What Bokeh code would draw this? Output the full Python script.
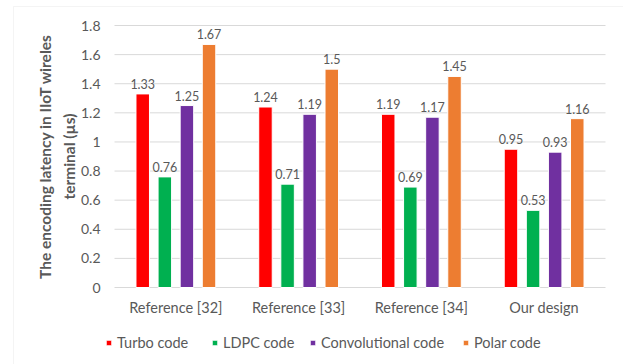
import numpy as np
from bokeh.plotting import figure
from bokeh.models import (ColumnDataSource, LabelSet, Label, Legend, LegendItem,
                          Range1d, BoxAnnotation)
from bokeh.core.properties import value
from bokeh.embed import file_html
from bokeh.resources import INLINE

categories = ["Reference [32]", "Reference [33]", "Reference [34]", "Our design"]
series_names = ["Turbo code", "LDPC code", "Convolutional code", "Polar code"]
turbo = [1.33, 1.24, 1.19, 0.95]
ldpc = [0.76, 0.71, 0.69, 0.53]
conv = [1.25, 1.19, 1.17, 0.93]
polar = [1.67, 1.5, 1.45, 1.16]
ytick_values = [0, 0.2, 0.4, 0.6, 0.8, 1, 1.2, 1.4, 1.6, 1.8]
ytick_labels = ["0", "0.2", "0.4", "0.6", "0.8", "1", "1.2", "1.4", "1.6", "1.8"]
y_title = "The encoding latency in IIoT wireles\nterminal (µs)"

# ---- layout (pixels) ----
W, H = 623, 364
PL, PR, PT, PB = 114, 605, 25, 287
colors = ["#FF0000", "#00B050", "#7030A0", "#ED7D31"]
offsets = [-0.27, -0.09, 0.09, 0.27]
legend_px = [105, 211, 309, 462]
FONT = "Lato"
TXT = "#595959"
GRID = "#D9D9D9"

ncat = len(categories)
ymax = ytick_values[-1]
xu = (PR - PL) / ncat          # px per category unit
yu = (PB - PT) / ymax          # px per data unit

p = figure(width=W, height=H, output_backend="svg", toolbar_location=None,
           x_range=Range1d(-PL / xu, (W - PL) / xu),
           y_range=Range1d(-(H - PB) / yu, ymax + PT / yu),
           x_axis_type=None, y_axis_type=None,
           min_border=0, min_border_left=0, min_border_right=0,
           min_border_top=0, min_border_bottom=0)
p.outline_line_color = None
p.xgrid.grid_line_color = None
p.ygrid.grid_line_color = None
p.background_fill_color = "white"
p.border_fill_color = "white"

# chart-area border (left & top visible)
p.add_layout(BoxAnnotation(left=(13 - PL) / xu, right=(W + 20 - PL) / xu,
                           top=ymax + (PT - 6) / yu, bottom=-(H + 20 - PB) / yu,
                           fill_alpha=0, line_color=GRID, line_width=1, level="underlay"))

# gridlines
p.segment(x0=[0] * len(ytick_values), x1=[ncat] * len(ytick_values),
          y0=ytick_values, y1=ytick_values, line_color=GRID, line_width=1)

xc = np.arange(ncat) + 0.5
series = [turbo, ldpc, conv, polar]
for name, vals, col, off, lx in zip(series_names, series, colors, offsets, legend_px):
    src = ColumnDataSource(dict(x=xc + off, val=vals, lab=[f"{v:g}" for v in vals]))
    r = p.vbar(x="x", top="val", width=0.11, source=src,
               fill_color=col, line_color="white", line_width=1)
    p.add_layout(LabelSet(x="x", y="val", text="lab", source=src,
                          text_align="center", text_baseline="alphabetic", y_offset=5,
                          text_font=value(FONT), text_font_size=value("12.5px"),
                          text_color=TXT))
    lg = Legend(items=[LegendItem(label=name, renderers=[r])], location=(lx, 13),
                glyph_width=7, glyph_height=7, label_standoff=5, padding=0, margin=0,
                border_line_color=None, background_fill_alpha=0,
                label_text_font=FONT, label_text_font_size="14.5px", label_text_color=TXT)
    p.add_layout(lg, "center")

# y tick labels
ysrc = ColumnDataSource(dict(x=[0] * len(ytick_values), y=ytick_values, t=ytick_labels))
p.add_layout(LabelSet(x="x", y="y", text="t", source=ysrc, x_offset=-14,
                      text_align="right", text_baseline="middle",
                      text_font=value(FONT), text_font_size=value("14px"), text_color=TXT))

# category labels
csrc = ColumnDataSource(dict(x=xc, y=[0] * ncat, t=categories))
p.add_layout(LabelSet(x="x", y="y", text="t", source=csrc, y_offset=-20,
                      text_align="center", text_baseline="middle",
                      text_font=value(FONT), text_font_size=value("14.5px"), text_color=TXT))

# y axis title
p.add_layout(Label(x=0, y=ymax / 2, x_offset=56.5 - PL, text=y_title, angle=np.pi / 2,
                   text_align="center", text_baseline="middle",
                   text_font=FONT, text_font_size="15.5px", text_font_style="bold",
                   text_color=TXT, text_line_height=1.3))

open("out.html", "w").write(file_html(p, INLINE))
